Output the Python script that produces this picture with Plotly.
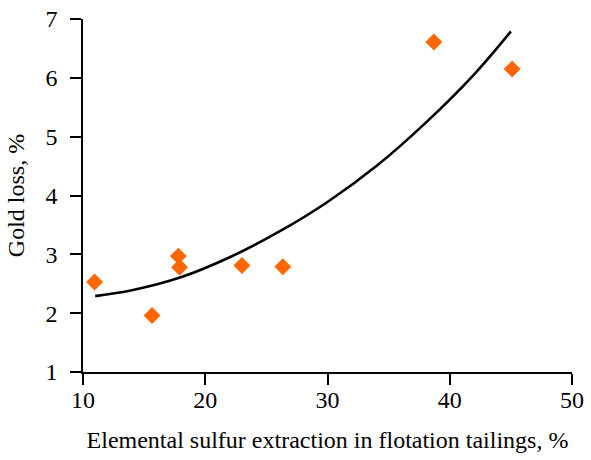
import plotly.graph_objects as go

# Scatter data
x_pts = [10.95, 15.65, 17.8, 17.9, 23.0, 26.35, 38.7, 45.1]
y_pts = [2.53, 1.96, 2.97, 2.78, 2.81, 2.79, 6.61, 6.15]

# Trend curve
x_curve = [11.0, 14.0, 18.0, 22.0, 26.0, 30.0, 34.0, 38.0, 42.0, 45.0]
y_curve = [2.29, 2.39, 2.61, 2.95, 3.38, 3.89, 4.50, 5.23, 6.06, 6.79]

x_ticks = [10, 20, 30, 40, 50]
y_ticks = [1, 2, 3, 4, 5, 6, 7]

fig = go.Figure()
fig.add_trace(go.Scatter(
    x=x_curve, y=y_curve, mode="lines",
    line=dict(color="black", width=2.6, shape="spline", smoothing=1),
    showlegend=False, hoverinfo="skip"))
fig.add_trace(go.Scatter(
    x=x_pts, y=y_pts, mode="markers",
    marker=dict(symbol="diamond", size=13, color="#FF6600", line=dict(width=0)),
    showlegend=False))

font = dict(family="Liberation Serif, Times New Roman, serif", size=24, color="black")

fig.update_layout(
    width=591, height=460,
    margin=dict(l=83, r=19, t=19, b=88),
    plot_bgcolor="white", paper_bgcolor="white",
    font=font,
    xaxis=dict(
        range=[10, 50], tickvals=x_ticks, ticks="outside", ticklen=11,
        tickwidth=1.5, tickcolor="black", showline=True, linecolor="black",
        linewidth=1.5, showgrid=False, zeroline=False, automargin=False,
        ticklabelstandoff=-6,
        title=dict(text="Elemental sulfur extraction in flotation tailings, %",
                   font=font, standoff=20),
        tickfont=font),
    yaxis=dict(
        range=[1, 7], tickvals=y_ticks, ticks="outside", ticklen=11,
        tickwidth=1.5, tickcolor="black", showline=True, linecolor="black",
        linewidth=1.5, showgrid=False, zeroline=False, automargin=False,
        ticklabelstandoff=8,
        title=dict(text="Gold loss, %", font=font, standoff=14),
        tickfont=font),
)

fig.write_html("out.html")
